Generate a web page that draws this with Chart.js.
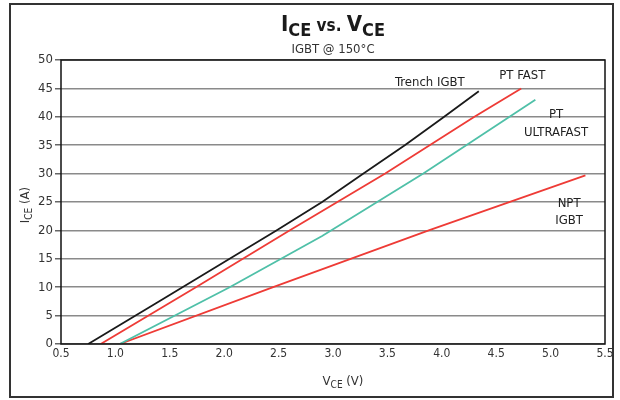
<!DOCTYPE html>
<html>
<head>
<meta charset="utf-8">
<script src="https://cdn.jsdelivr.net/npm/chart.js@4"></script>
<style>
  html, body { margin: 0; padding: 0; background: #fff; }
  #wrap { width: 620px; height: 400px; position: relative; }
</style>
</head>
<body>
<div id="wrap"><canvas id="chart"></canvas></div>
<script>
// V_CE (x) and I_CE (y)
const trenchV = [0.75, 1.40, 2.05, 2.48, 2.90, 3.28, 3.66, 4.00, 4.34];
const trenchI = [0, 7.5, 15, 20, 25, 30, 35, 39.7, 44.5];

const ptFastV = [0.865, 1.74, 2.60, 3.48, 4.30, 4.73];
const ptFastI = [0, 10, 20, 30, 40, 45];

const ptUltraV = [1.04, 2.05, 2.90, 3.83, 4.86];
const ptUltraI = [0, 10, 19, 30, 43];

const nptV = [1.04, 2.45, 3.88, 5.32];
const nptI = [0, 10, 20, 29.7];

const xTicks = [0.5, 1.0, 1.5, 2.0, 2.5, 3.0, 3.5, 4.0, 4.5, 5.0, 5.5];
const yTicks = [0, 5, 10, 15, 20, 25, 30, 35, 40, 45, 50];

// series labels, placed in data units
const seriesLabels = [
    { text: 'Trench IGBT', v: 3.89, i: 46.1 },
    { text: 'PT FAST', v: 4.74, i: 47.2 },
    { text: 'PT', v: 5.05, i: 40.3 },
    { text: 'ULTRAFAST', v: 5.05, i: 37.3 },
    { text: 'NPT', v: 5.17, i: 24.8 },
    { text: 'IGBT', v: 5.17, i: 21.8 }
];

const FONT = '"Liberation Sans Narrow", "DejaVu Sans Condensed", "Liberation Sans", sans-serif';

function toPoints(xs, ys) {
    return xs.map((x, k) => ({ x: x, y: ys[k] }));
}

// draws a run of text pieces (for subscripts), centred on cx
function drawParts(ctx, parts, cx, cy) {
    let total = 0;
    parts.forEach(p => {
        ctx.font = p.font;
        total += ctx.measureText(p.t).width;
    });
    let x = cx - total / 2;
    ctx.textAlign = 'left';
    ctx.textBaseline = 'alphabetic';
    parts.forEach(p => {
        ctx.font = p.font;
        ctx.fillText(p.t, x, cy + (p.dy || 0));
        x += ctx.measureText(p.t).width;
    });
}

const decorations = {
    id: 'decorations',
    beforeDraw(chart) {
        const ctx = chart.ctx;
        ctx.save();
        ctx.fillStyle = '#fff';
        ctx.fillRect(0, 0, chart.width, chart.height);
        ctx.restore();
    },
    afterDraw(chart) {
        const ctx = chart.ctx;
        const a = chart.chartArea;
        const xs = chart.scales.x;
        const ys = chart.scales.y;
        ctx.save();

        // plot box
        ctx.strokeStyle = '#111';
        ctx.lineWidth = 1.5;
        ctx.strokeRect(a.left, a.top, a.right - a.left, a.bottom - a.top);

        // outer frame
        ctx.strokeStyle = '#333';
        ctx.lineWidth = 2;
        ctx.strokeRect(10, 4, 603, 393);

        // title
        ctx.fillStyle = '#1a1a1a';
        drawParts(ctx, [
            { t: 'I', font: 'bold 22px ' + FONT },
            { t: 'CE', font: 'bold 18px ' + FONT, dy: 5 },
            { t: ' vs. ', font: 'bold 17px ' + FONT },
            { t: 'V', font: 'bold 22px ' + FONT },
            { t: 'CE', font: 'bold 18px ' + FONT, dy: 5 }
        ], 333, 31);

        ctx.fillStyle = '#333';
        ctx.font = '13px ' + FONT;
        ctx.textAlign = 'center';
        ctx.textBaseline = 'middle';
        ctx.fillText('IGBT @ 150°C', 333, 50);

        // axis titles
        drawParts(ctx, [
            { t: 'V', font: '13px ' + FONT },
            { t: 'CE', font: '10px ' + FONT, dy: 3 },
            { t: ' (V)', font: '13px ' + FONT }
        ], 343, 385);

        ctx.translate(25, 205);
        ctx.rotate(-Math.PI / 2);
        drawParts(ctx, [
            { t: 'I', font: '13px ' + FONT },
            { t: 'CE', font: '10px ' + FONT, dy: 3 },
            { t: ' (A)', font: '13px ' + FONT }
        ], 0, 4);
        ctx.setTransform(1, 0, 0, 1, 0, 0);

        // series labels
        ctx.fillStyle = '#222';
        ctx.font = '13px ' + FONT;
        ctx.textAlign = 'center';
        ctx.textBaseline = 'middle';
        seriesLabels.forEach(l => {
            ctx.fillText(l.text, xs.getPixelForValue(l.v), ys.getPixelForValue(l.i));
        });
        ctx.restore();
    }
};

const lineStyle = { pointRadius: 0, borderWidth: 1.8, tension: 0, fill: false };

new Chart(document.getElementById('chart'), {
    type: 'line',
    data: {
        datasets: [
            Object.assign({ label: 'Trench IGBT', data: toPoints(trenchV, trenchI), borderColor: '#1a1a1a' }, lineStyle),
            Object.assign({ label: 'PT FAST', data: toPoints(ptFastV, ptFastI), borderColor: '#ee3b36' }, lineStyle),
            Object.assign({ label: 'PT ULTRAFAST', data: toPoints(ptUltraV, ptUltraI), borderColor: '#4fc0a8' }, lineStyle),
            Object.assign({ label: 'NPT IGBT', data: toPoints(nptV, nptI), borderColor: '#ee3b36' }, lineStyle)
        ]
    },
    options: {
        responsive: true,
        maintainAspectRatio: false,
        animation: false,
        layout: { padding: { left: 0, top: 60, right: 15, bottom: 0 } },
        plugins: {
            legend: { display: false },
            title: { display: false },
            tooltip: { enabled: false }
        },
        scales: {
            x: {
                type: 'linear',
                min: 0.5,
                max: 5.5,
                afterBuildTicks: s => { s.ticks = xTicks.map(v => ({ value: v })); },
                afterFit: s => { s.height = 56; },
                grid: { display: false, drawTicks: false },
                border: { display: false },
                ticks: {
                    padding: 3,
                    color: '#333',
                    font: { family: FONT, size: 12 },
                    callback: v => Number(v).toFixed(1)
                }
            },
            y: {
                min: 0,
                max: 50,
                afterBuildTicks: s => { s.ticks = yTicks.map(v => ({ value: v })); },
                afterFit: s => { s.width = 61; },
                grid: { color: '#8a8a8a', lineWidth: 1.5, tickLength: 6, tickColor: '#666' },
                border: { display: false },
                ticks: {
                    padding: 2,
                    color: '#333',
                    font: { family: FONT, size: 13 }
                }
            }
        }
    },
    plugins: [decorations]
});
</script>
</body>
</html>
